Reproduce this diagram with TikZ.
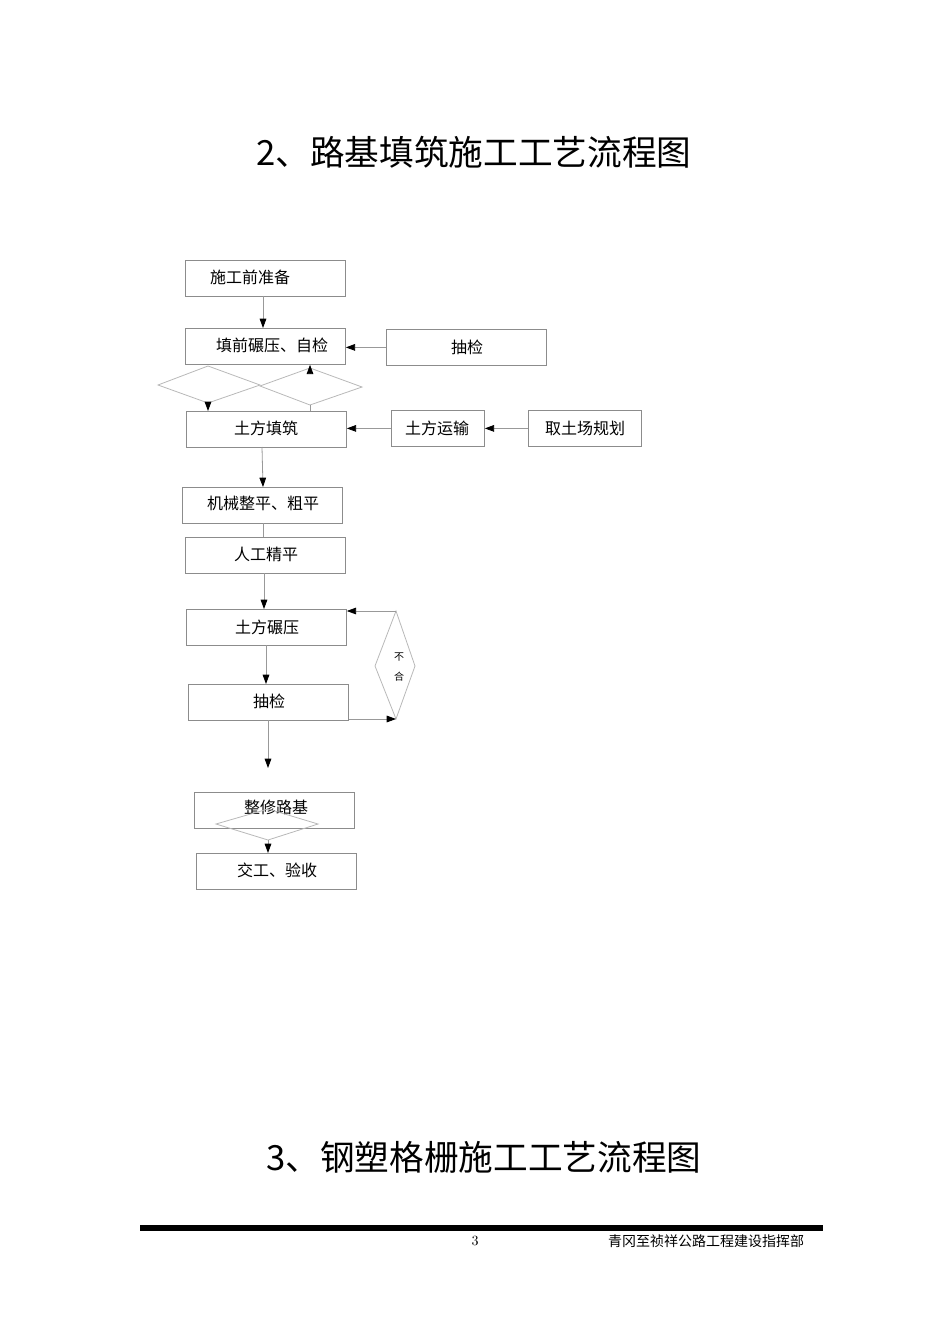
\documentclass[tikz,border=0pt]{standalone}
\usepackage{fontspec}
\newfontfamily\cjk{Noto Sans CJK SC}
\usetikzlibrary{arrows.meta}
\begin{document}
\begin{tikzpicture}[x=0.75pt,y=-0.75pt,
  box/.style={draw=black!45,line width=0.6pt,minimum width=120pt,minimum height=27pt,inner sep=0pt,anchor=north west},
  txt/.style={font=\cjk\fontsize{12}{12}\selectfont,inner sep=0pt},
  ttl/.style={font=\cjk\fontsize{26}{26}\selectfont,inner sep=0pt},
  ln/.style={draw=black!40,line width=0.6pt},
  dm/.style={draw=black!28,line width=0.6pt},
  arr/.style={ln,-{Triangle[width=5pt,length=7pt,color=black]}}]
\useasboundingbox (0,0) rectangle (950,1344);
% titles
\node[ttl] (t1) at (474,152) {2、路基填筑施工工艺流程图};
\node[ttl] (t2) at (484,1157) {3、钢塑格栅施工工艺流程图};
% boxes
\node[box] (b1) at (185,260) {};
\node[txt] (l1) at (250,277) {施工前准备};
\node[box] (b2) at (185,328) {};
\node[txt] (l2) at (272,345) {填前碾压、自检};
\node[box] (b3) at (386,329) {};
\node[txt] (l3) at (467,347) {抽检};
\node[box] (b4) at (186,411) {};
\node[txt] (l4) at (266,428) {土方填筑};
\node[box,minimum width=69.75pt] (b5) at (391,410) {};
\node[txt] (l5) at (437,428) {土方运输};
\node[box,minimum width=84.75pt] (b6) at (528,410) {};
\node[txt] (l6) at (585,428) {取土场规划};
\node[box] (b7) at (182,487) {};
\node[txt] (l7) at (263,503) {机械整平、粗平};
\node[box] (b8) at (185,537) {};
\node[txt] (l8) at (266,554) {人工精平};
\node[box] (b9) at (186,609) {};
\node[txt] (l9) at (267,627) {土方碾压};
\node[box] (b10) at (188,684) {};
\node[txt] (l10) at (269,701) {抽检};
\node[box] (b11) at (194,792) {};
\node[txt] (l11) at (276,807) {整修路基};
\node[box] (b12) at (196,853) {};
\node[txt] (l12) at (277,870) {交工、验收};
% diamonds
\coordinate (d1l) at (158,385); \coordinate (d1t) at (208,366);
\coordinate (d1r) at (260,385); \coordinate (d1b) at (208,403);
\draw[dm] (d1l) -- (d1t) -- (d1r) -- (d1b) -- cycle;
\coordinate (d2l) at (260,386); \coordinate (d2t) at (310,368);
\coordinate (d2r) at (362,387); \coordinate (d2b) at (310,405);
\draw[dm] (d2l) -- (d2t) -- (d2r) -- (d2b) -- cycle;
\coordinate (d3t) at (396,611); \coordinate (d3l) at (375,666);
\coordinate (d3r) at (415,666); \coordinate (d3b) at (396,719);
\draw[dm] (d3t) -- (d3l) -- (d3b) -- (d3r) -- cycle;
\node[font=\cjk\fontsize{7.5}{7.5}\selectfont,inner sep=0pt] (n1) at (399,657) {不};
\node[font=\cjk\fontsize{7.5}{7.5}\selectfont,inner sep=0pt] (n2) at (399,677) {合};
\coordinate (d4l) at (216,824); \coordinate (d4t) at (268,809);
\coordinate (d4r) at (318,824); \coordinate (d4b) at (268,840);
\draw[dm] (d4l) -- (d4t) -- (d4r) -- (d4b) -- cycle;
% connectors
\draw[arr] (263,296) -- (263,328);
\draw[arr] (b3.west) -- (b3.west -| b2.east);
\draw[arr] (d1b) -- (d1b |- b4.north);
\draw[ln] (d2b) -- (d2b |- b4.north);
\draw[arr] (d2t) -- (d2t |- b2.south);
\draw[arr] (b5.west) -- (b5.west -| b4.east);
\draw[arr] (b6.west) -- (b6.west -| b5.east);
\draw[arr] (262,447) -- (263,487);
\draw[ln] (263,523) -- (263,537);
\draw[arr] (264,573) -- (264,609);
\draw[arr] (266,645) -- (266,684);
\draw[arr] (d3t) -- (d3t -| b9.east);
\draw[arr] (d3b -| b10.east) -- (d3b);
\coordinate (e1) at (268,768);
\draw[arr] (268,720) -- (e1);
\draw[arr] (d4b) -- (d4b |- b12.north);
% footer
\fill[black] (140,1225) rectangle (823,1231);
\node[font=\fontsize{10.5}{10.5}\selectfont,inner sep=0pt] (pg) at (475,1241) {3};
\node[font=\cjk\fontsize{10.5}{10.5}\selectfont,inner sep=0pt] (ft) at (706,1241) {青冈至祯祥公路工程建设指挥部};
\end{tikzpicture}
\end{document}
